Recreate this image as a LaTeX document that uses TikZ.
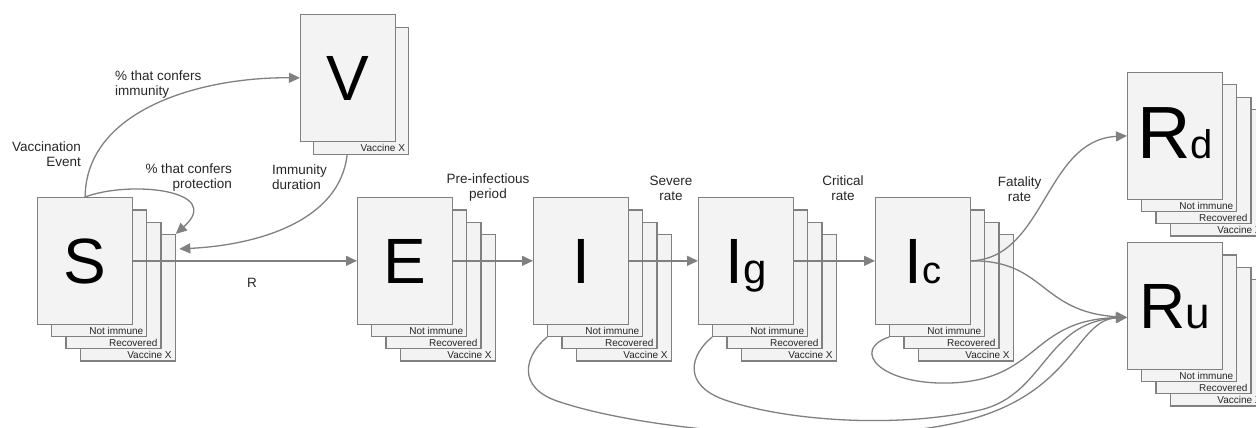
\documentclass[tikz,border=0pt]{standalone}
\usepackage{fontspec}
\setmainfont{Liberation Sans}
\usetikzlibrary{arrows.meta,calc}
\definecolor{lg}{RGB}{128,128,128}
\definecolor{boxfill}{RGB}{243,243,243}
\newcommand\mkstack[3]{%
  \node[layer] (#13) at (#2+42.6,#3+36.9) {};
  \node[tag] (#1t3) at ([xshift=-4pt,yshift=3pt]#13.south east) {Vaccine X};
  \node[layer] (#12) at (#2+28.4,#3+24.6) {};
  \node[tag] (#1t2) at ([xshift=-4pt,yshift=3pt]#12.south east) {Recovered};
  \node[layer] (#11) at (#2+14.2,#3+12.3) {};
  \node[tag] (#1t1) at ([xshift=-4pt,yshift=3pt]#11.south east) {Not immune};
  \node[layer] (#1) at (#2,#3) {};
}
\begin{document}
\begin{tikzpicture}[x=1pt,y=-1pt,
  layer/.style={draw=lg, fill=boxfill, line width=1.2pt, minimum width=95pt, minimum height=126.5pt, anchor=north west, inner sep=0pt},
  tag/.style={anchor=base east, font=\fontsize{10}{10}\selectfont, inner sep=0pt, text=black!85},
  big/.style={anchor=base, inner sep=0pt},
  lbl/.style={font=\fontsize{13.5}{15}\selectfont, inner sep=0pt, text=black!85},
  conn/.style={draw=lg, line width=1.3pt},
  arr/.style={conn, -{Triangle[length=11pt,width=10pt]}}
]
\useasboundingbox (0,0) rectangle (1256,428);

% V stack
\node[layer] (V1) at (313,27) {};
\node[tag] (Vt1) at ([xshift=-4pt,yshift=3pt]V1.south east) {Vaccine X};
\node[layer] (V) at (300,14) {};

\mkstack{S}{37}{197}
\mkstack{E}{357}{197}
\mkstack{I}{533}{197}
\mkstack{Ig}{698}{197}
\mkstack{Ic}{875}{197}
\mkstack{Rd}{1127}{72}
\mkstack{Ru}{1127}{242}

% big letters
\node[big] (Vl) at ([yshift=-23pt]V.center) {\fontsize{64}{64}\selectfont V};
\node[big] (Sl) at ([yshift=-23pt]S.center) {\fontsize{64}{64}\selectfont S};
\node[big] (El) at ([yshift=-23pt]E.center) {\fontsize{64}{64}\selectfont E};
\node[big] (Il) at ([yshift=-23pt]I.center) {\fontsize{64}{64}\selectfont I};
\node[big] (Igl) at ([yshift=-23pt]Ig.center) {\fontsize{64}{64}\selectfont I\fontsize{42}{42}\selectfont g};
\node[big] (Icl) at ([yshift=-23pt]Ic.center) {\fontsize{64}{64}\selectfont I\fontsize{38}{38}\selectfont c};
\node[big] (Rdl) at ([yshift=-23pt]Rd.center) {\fontsize{74}{74}\selectfont R\fontsize{40}{40}\selectfont d};
\node[big] (Rul) at ([yshift=-23pt]Ru.center) {\fontsize{64}{64}\selectfont R\fontsize{44}{44}\selectfont u};

% connectors
\coordinate (Sin) at ($(S3.north east)+(3.5,15)$);
\coordinate (Ruin) at ($(Ru.west)+(0,11.5)$);
\draw[arr] (S.east) -- (E.west);
\draw[arr] (E.east) -- (I.west);
\draw[arr] (I.east) -- (Ig.west);
\draw[arr] (Ig.east) -- (Ic.west);
\draw[arr] (S.north) .. controls (86,110) and (200,77) .. (V.west);
\draw[arr] (S.north) .. controls (130,180) and (225,190) .. (S3.north east);
\draw[arr] ($(V1.south)+(-14,0)$) .. controls (340,220) and (260,245) .. (Sin);
\draw[arr] (Ic.east) .. controls (1045,258) and (1045,140) .. (Rd.west);
\draw[arr] (Ic.east) .. controls (1045,260) and (1040,312) .. (Ruin);
\draw[arr] (Ic1.south west) .. controls (850,350) and (880,385) .. (950,383)
  .. controls (1040,380) and (1030,320) .. (Ruin);
\draw[arr] (I1.south west) .. controls (525,355) and (515,388) .. (560,402)
  .. controls (650,432) and (850,448) .. (960,422)
  .. controls (1075,395) and (1075,320) .. (Ruin);
\draw[arr] (Ig1.south west) .. controls (690,355) and (682,385) .. (725,400)
  .. controls (790,422) and (900,428) .. (980,410)
  .. controls (1045,395) and (1045,322) .. (Ruin);

% labels
\node[lbl, align=right, anchor=north east] (lvac) at (81,142) {Vaccination\\Event};
\node[lbl, align=left, anchor=north west] (limm) at (115,71) {\% that confers\\immunity};
\node[lbl, align=right, anchor=north east] (lprot) at (232,164) {\% that confers\\protection};
\node[lbl, align=left, anchor=north west] (ldur) at (272,165) {Immunity\\duration};
\node[lbl, anchor=base west] (lR) at (247,287) {R};
\node[lbl, align=center, anchor=north] (lpre) at (488,174) {Pre-infectious\\period};
\node[lbl, align=center, anchor=north] (lsev) at (671,176) {Severe\\rate};
\node[lbl, align=center, anchor=north] (lcri) at (843,176) {Critical\\rate};
\node[lbl, align=center, anchor=north] (lfat) at (1019.5,177) {Fatality\\rate};
\end{tikzpicture}
\end{document}
